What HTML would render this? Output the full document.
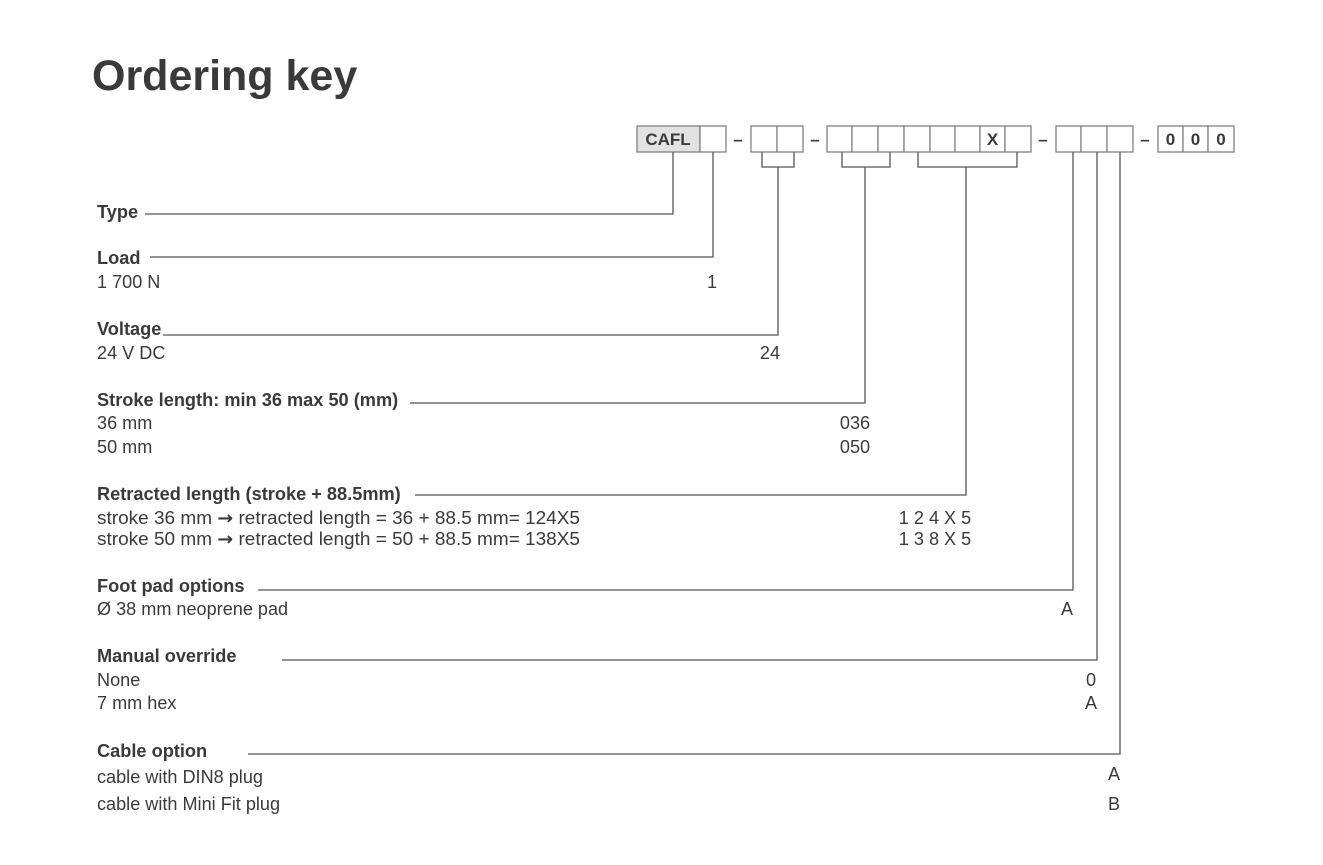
<!DOCTYPE html>
<html><head><meta charset="utf-8"><style>
body{margin:0;background:#fff;}
svg{display:block;font-family:"Liberation Sans",Arial,sans-serif;}
.b{font-weight:bold;font-size:18.2px;fill:#3a3a3a}
.r{font-size:18.1px;fill:#3a3a3a}
.l{stroke:#555;stroke-width:1.3;fill:none}
.bx{stroke:#777;stroke-width:1.2;fill:#fff}
.bt{font-weight:bold;font-size:17px;fill:#3a3a3a;text-anchor:middle}
.m{text-anchor:middle}
.ar{font-family:"DejaVu Sans",sans-serif;font-weight:bold}
</style></head><body>
<svg width="1323" height="865" viewBox="0 0 1323 865">
<text x="92" y="90" font-size="43" font-weight="bold" fill="#3a3a3a">Ordering key</text>
<rect x="637" y="126" width="63" height="26" fill="#e2e2e2" stroke="#777" stroke-width="1.2"/>
<text x="668" y="145" class="bt">CAFL</text>
<rect class="bx" x="700" y="126" width="26" height="26"/>
<text x="738" y="145" class="bt">–</text>
<rect class="bx" x="751" y="126" width="26" height="26"/>
<rect class="bx" x="777" y="126" width="26" height="26"/>
<text x="815" y="145" class="bt">–</text>
<rect class="bx" x="827" y="126" width="25" height="26"/>
<rect class="bx" x="852" y="126" width="26" height="26"/>
<rect class="bx" x="878" y="126" width="26" height="26"/>
<rect class="bx" x="904" y="126" width="26" height="26"/>
<rect class="bx" x="930" y="126" width="25" height="26"/>
<rect class="bx" x="955" y="126" width="25" height="26"/>
<rect class="bx" x="980" y="126" width="25" height="26"/>
<text x="992.5" y="145" class="bt">X</text>
<rect class="bx" x="1005" y="126" width="26" height="26"/>
<text x="1043" y="145" class="bt">–</text>
<rect class="bx" x="1056" y="126" width="25" height="26"/>
<rect class="bx" x="1081" y="126" width="26" height="26"/>
<rect class="bx" x="1107" y="126" width="26" height="26"/>
<text x="1145" y="145" class="bt">–</text>
<rect class="bx" x="1158" y="126" width="25" height="26"/>
<rect class="bx" x="1183" y="126" width="25" height="26"/>
<rect class="bx" x="1208" y="126" width="26" height="26"/>
<text x="1170.5" y="145" class="bt">0</text>
<text x="1195.5" y="145" class="bt">0</text>
<text x="1221" y="145" class="bt">0</text>
<path class="l" d="M673 152V214H145"/>
<path class="l" d="M713 152V257H150"/>
<path class="l" d="M762 152V167H794V152M778 167V335H163"/>
<path class="l" d="M842 152V167H890V152M865 167V403H410"/>
<path class="l" d="M918 152V167H1017V152M966 167V495H415"/>
<path class="l" d="M1073 152V590H258"/>
<path class="l" d="M1097 152V660H282"/>
<path class="l" d="M1120 152V754H248"/>
<text x="97" y="218" class="b">Type</text>
<text x="97" y="264" class="b">Load</text>
<text x="97" y="288" class="r">1 700 N</text>
<text x="712" y="288" class="r m">1</text>
<text x="97" y="335" class="b">Voltage</text>
<text x="97" y="359" class="r">24 V DC</text>
<text x="770" y="359" class="r m">24</text>
<text x="97" y="406" class="b">Stroke length: min 36 max 50 (mm)</text>
<text x="97" y="429" class="r">36 mm</text>
<text x="97" y="453" class="r">50 mm</text>
<text x="855" y="429" class="r m">036</text>
<text x="855" y="453" class="r m">050</text>
<text x="97" y="500" class="b">Retracted length (stroke + 88.5mm)</text>
<text x="97" y="524" class="r" font-size="17.4" textLength="483" lengthAdjust="spacingAndGlyphs">stroke 36 mm <tspan class="ar">→</tspan> retracted length = 36 + 88.5 mm= 124X5</text>
<text x="97" y="545" class="r" font-size="17.4" textLength="483" lengthAdjust="spacingAndGlyphs">stroke 50 mm <tspan class="ar">→</tspan> retracted length = 50 + 88.5 mm= 138X5</text>
<text x="935" y="524" class="r m">1 2 4 X 5</text>
<text x="935" y="545" class="r m">1 3 8 X 5</text>
<text x="97" y="592" class="b">Foot pad options</text>
<text x="97" y="615" class="r">Ø 38 mm neoprene pad</text>
<text x="1067" y="615" class="r m">A</text>
<text x="97" y="662" class="b">Manual override</text>
<text x="97" y="686" class="r">None</text>
<text x="97" y="709" class="r">7 mm hex</text>
<text x="1091" y="686" class="r m">0</text>
<text x="1091" y="709" class="r m">A</text>
<text x="97" y="757" class="b">Cable option</text>
<text x="97" y="783" class="r">cable with DIN8 plug</text>
<text x="97" y="810" class="r">cable with Mini Fit plug</text>
<text x="1114" y="780" class="r m">A</text>
<text x="1114" y="810" class="r m">B</text>
</svg>
</body></html>
